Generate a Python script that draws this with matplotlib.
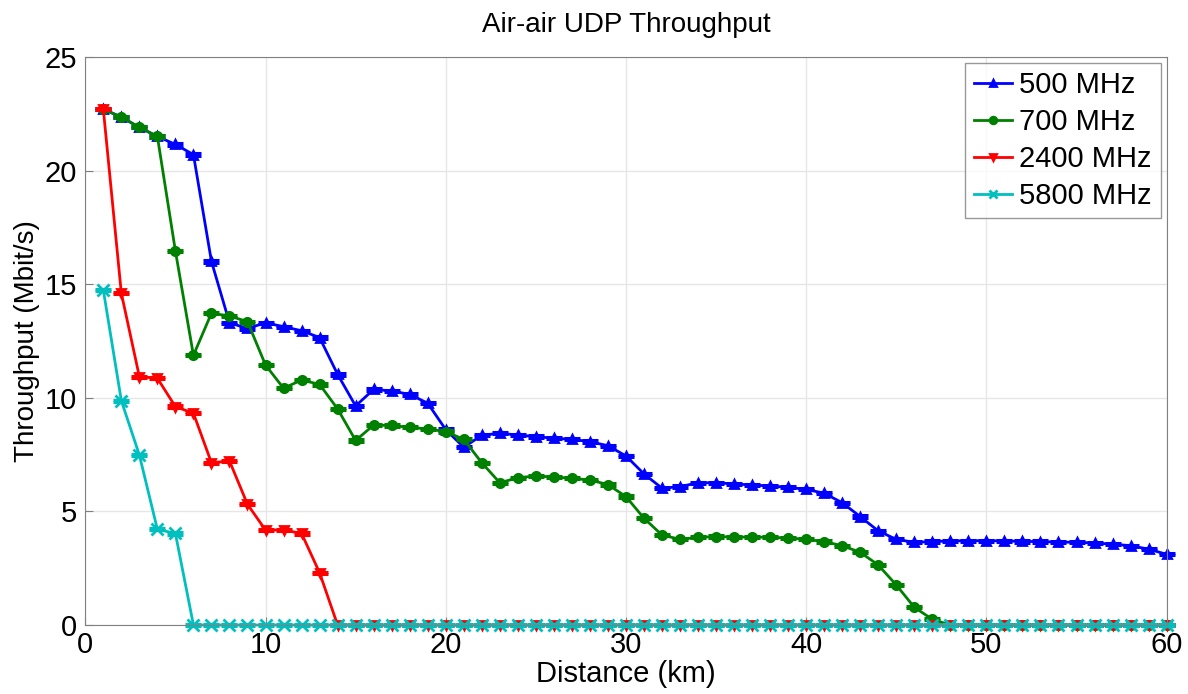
import numpy as np
import matplotlib.pyplot as plt

plt.rcParams['font.family'] = ['Liberation Sans', 'DejaVu Sans']

# distance (km)
dist = np.arange(1, 61)

thr_500 = [22.7, 22.35, 21.9, 21.5, 21.15, 20.7, 16.0, 13.3, 13.05, 13.3,
           13.13, 12.95, 12.65, 11.03, 9.64, 10.37, 10.3, 10.15, 9.76, 8.6,
           7.82, 8.35, 8.44, 8.36, 8.29, 8.22, 8.17, 8.07, 7.89, 7.44,
           6.65, 6.02, 6.09, 6.26, 6.26, 6.21, 6.16, 6.12, 6.06, 5.97,
           5.8, 5.38, 4.77, 4.14, 3.77, 3.64, 3.67, 3.70, 3.71, 3.71,
           3.70, 3.68, 3.67, 3.65, 3.64, 3.61, 3.56, 3.49, 3.34, 3.11]
thr_700 = [22.7, 22.35, 21.9, 21.5, 16.46, 11.87, 13.72, 13.6, 13.35, 11.44,
           10.42, 10.78, 10.59, 9.51, 8.12, 8.80, 8.78, 8.70, 8.63, 8.51,
           8.17, 7.14, 6.26, 6.48, 6.56, 6.51, 6.46, 6.38, 6.18, 5.65,
           4.70, 3.96, 3.77, 3.86, 3.89, 3.87, 3.87, 3.86, 3.83, 3.77,
           3.67, 3.49, 3.2, 2.64, 1.76, 0.78, 0.25] + [0] * 13
thr_2400 = [22.7, 14.6, 10.93, 10.86, 9.61, 9.32, 7.14, 7.22, 5.31, 4.18,
            4.18, 4.03, 2.30] + [0] * 47
thr_5800 = [14.74, 9.87, 7.48, 4.21, 4.03] + [0] * 55

series = [
    (thr_500, '500 MHz', '#0000FF', '^', 6),
    (thr_700, '700 MHz', '#008000', 'o', 6),
    (thr_2400, '2400 MHz', '#FF0000', 'v', 6),
    (thr_5800, '5800 MHz', '#00BFBF', 'x', 8),
]

fig = plt.figure(figsize=(11.88, 6.94), dpi=100)
ax = fig.add_axes([0.0718, 0.0994, 0.9102, 0.8186])

for y, lab, c, m, ms in series:
    eb = ax.errorbar(dist, y, yerr=0.05, fmt='none', ecolor=c, elinewidth=2,
                     capsize=5.5, capthick=2.2)
    for art in eb.lines[1]:
        art.set_clip_on(False)
    ax.plot(dist, y, color=c, lw=2, marker=m, ms=ms, mew=2, label=lab,
            clip_on=False)

ax.set_xlim(0, 60)
ax.set_ylim(0, 25)
ax.set_xticks(np.arange(0, 61, 10))
ax.set_yticks(np.arange(0, 26, 5))
ax.grid(True, color='#e6e6e6', lw=1)
ax.set_axisbelow(True)
ax.tick_params(direction='in', labelsize=21, length=6, color='#808080')
ax.tick_params(axis='y', pad=6)
ax.tick_params(axis='x', pad=4)
for s in ax.spines.values():
    s.set_color('#808080')

ax.set_xlabel('Distance (km)', fontsize=21, labelpad=1)
ax.set_ylabel('Throughput (Mbit/s)', fontsize=20, labelpad=3)
ax.set_title('Air-air UDP Throughput', fontsize=20, pad=18)

leg = ax.legend(loc='upper right', fontsize=21, handlelength=1.3,
                handletextpad=0.25, borderaxespad=0.2, fancybox=False,
                labelspacing=0.3, borderpad=0.3, markerscale=0.8)
leg.get_frame().set_edgecolor('#808080')
leg.get_frame().set_linewidth(1)

fig.savefig('out.png', dpi=100)
